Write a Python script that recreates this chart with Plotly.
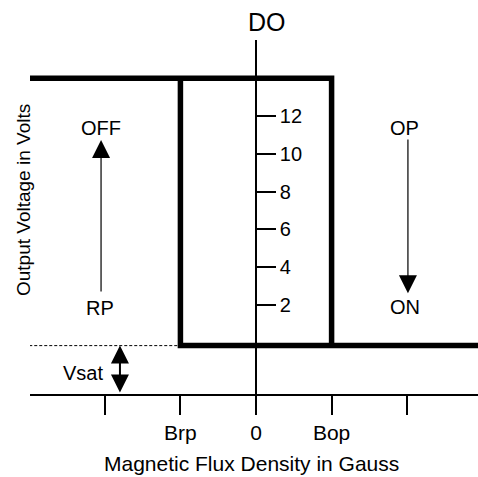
import plotly.graph_objects as go

# ---- chart values (schematic hysteresis of a Hall switch) ----
b_rp = -1          # release point (Brp)
b_op = 1           # operate point (Bop)
b_left = -3        # left end of the drawn characteristic
b_right = 3        # right end (clipped at the plot edge)
v_high = 14        # OFF output level
v_low = -0.15      # ON output level (Vsat)
v_axis = -2.71     # level of the flux axis

flux_ticks = [-2, -1, 0, 1, 2]
flux_labels = ["", "Brp", "0", "Bop", ""]
volt_ticks = [2, 4, 6, 8, 10, 12]
volt_labels = ["2", "4", "6", "8", "10", "12"]

upper_x = [b_left, b_op, b_op]
upper_y = [v_high, v_high, v_low]
lower_x = [b_rp, b_rp, b_right]
lower_y = [v_high, v_low, v_low]
dash_x = [b_left, b_rp]
dash_y = [v_low, v_low]

off_x, off_from, off_to = -2.05, 2.63, 10.73
on_x, on_from, on_to = 2.01, 10.84, 2.62
vsat_x = -1.8

x_range = [-2.99, 2.937]
y_range = [-2.71, 16.02]

FONT = "Liberation Sans, Arial, sans-serif"

fig = go.Figure()
fig.add_trace(go.Scatter(x=upper_x, y=upper_y, mode="lines",
                         line=dict(color="black", width=5.5), hoverinfo="skip"))
fig.add_trace(go.Scatter(x=lower_x, y=lower_y, mode="lines",
                         line=dict(color="black", width=5.5), hoverinfo="skip"))
fig.add_trace(go.Scatter(x=dash_x, y=dash_y, mode="lines",
                         line=dict(color="black", width=1, dash="3px,2px"), hoverinfo="skip"))

ann = []
def label(x, y, text, size=20):
    ann.append(dict(x=x, y=y, xref="x", yref="y", text=text, showarrow=False,
                    xanchor="center", yanchor="middle",
                    font=dict(family=FONT, size=size, color="black")))

label(-2.05, 11.36, "OFF")
label(-2.06, 1.84, "RP")
label(1.96, 11.36, "OP")
label(1.97, 1.89, "ON")
label(-2.29, -1.6, "Vsat")

# arrows
ann.append(dict(x=off_x, y=off_to, ax=off_x, ay=off_from, xref="x", yref="y",
                axref="x", ayref="y", text="", showarrow=True, arrowhead=2,
                arrowsize=3.0, arrowwidth=1.2, arrowcolor="black"))
ann.append(dict(x=on_x, y=on_to, ax=on_x, ay=on_from, xref="x", yref="y",
                axref="x", ayref="y", text="", showarrow=True, arrowhead=2,
                arrowsize=3.0, arrowwidth=1.2, arrowcolor="black"))
ann.append(dict(x=vsat_x, y=v_low, ax=vsat_x, ay=v_axis, xref="x", yref="y",
                axref="x", ayref="y", text="", showarrow=True, arrowhead=2,
                arrowsize=1.8, arrowwidth=2, arrowcolor="black",
                arrowside="end+start", startarrowhead=2, startarrowsize=1.8))

# titles
ann.append(dict(x=0.529, y=1.0508, xref="paper", yref="paper", text="DO",
                xanchor="center", yanchor="middle",
                showarrow=False, font=dict(family=FONT, size=25, color="black")))
ann.append(dict(x=-0.0156, y=0.548, xref="paper", yref="paper",
                xanchor="center", yanchor="middle",
                text="Output Voltage in Volts", textangle=-90, showarrow=False,
                font=dict(family=FONT, size=19, color="black")))
ann.append(dict(x=0.4955, y=-0.195, xref="paper", yref="paper",
                xanchor="center", yanchor="middle",
                text="Magnetic Flux Density in Gauss", showarrow=False,
                font=dict(family=FONT, size=21, color="black")))

fig.update_layout(
    width=478, height=477,
    margin=dict(l=30, r=0, t=40, b=83),
    paper_bgcolor="white", plot_bgcolor="white",
    showlegend=False,
    annotations=ann,
    xaxis=dict(range=x_range, showgrid=False, zeroline=False, showline=True,
               linecolor="black", linewidth=1.5, ticks="outside", ticklen=19,
               tickwidth=1.5, tickcolor="black", tickvals=flux_ticks,
               ticktext=flux_labels, tickfont=dict(family=FONT, size=21, color="black"),
               fixedrange=True, automargin=False),
    yaxis=dict(range=y_range, showgrid=False, zeroline=False, showline=True,
               linecolor="black", linewidth=1.5, ticks="outside", ticklen=19,
               tickwidth=1.5, tickcolor="black", tickvals=volt_ticks,
               ticktext=volt_labels, side="right", anchor="free",
               position=0.5045, tickfont=dict(family=FONT, size=20, color="black"),
               fixedrange=True, automargin=False),
)

fig.write_html("out.html", config={"displayModeBar": False},
               post_script="document.body.style.margin='0';document.body.style.overflow='hidden';")
